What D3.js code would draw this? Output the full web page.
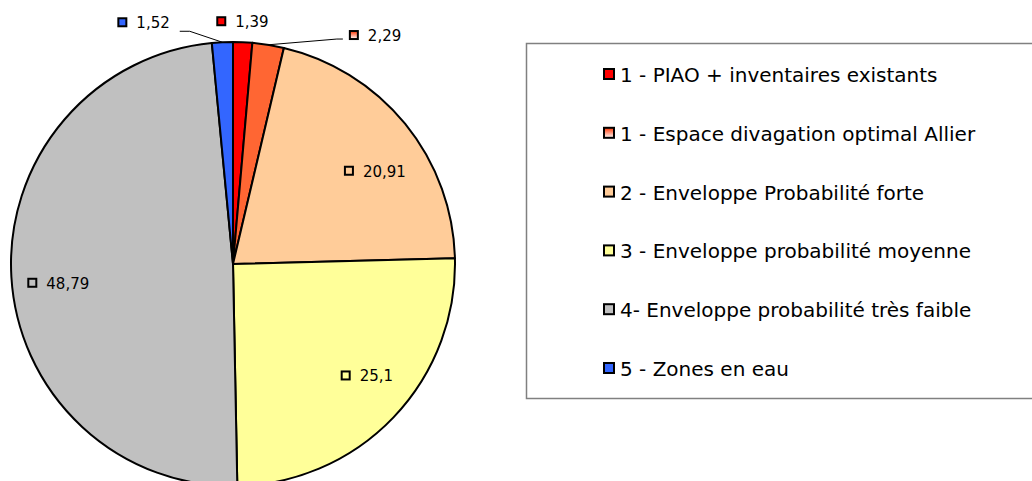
<!DOCTYPE html>
<html>
<head>
<meta charset="utf-8">
<script src="https://cdn.jsdelivr.net/npm/d3@7"></script>
<style>
  html, body { margin: 0; padding: 0; background: #fff; }
  svg { display: block; font-family: Verdana, "DejaVu Sans", sans-serif; }
</style>
</head>
<body>
<div id="chart"></div>
<script>
// categories and values, in drawing order (clockwise from 12 o'clock)
var categories = [
  "1 - PIAO + inventaires existants",
  "1 - Espace divagation optimal Allier",
  "2 - Enveloppe Probabilité forte",
  "3 - Enveloppe probabilité moyenne",
  "4- Enveloppe probabilité très faible",
  "5 - Zones en eau"
];
var values = [1.39, 2.29, 20.91, 25.1, 48.79, 1.52];
var valueLabels = ["1,39", "2,29", "20,91", "25,1", "48,79", "1,52"];
var fills = ["#ff0000", "url(#gradSlice)", "#ffcc99", "#ffff99", "#c0c0c0", "#3366ff"];
var legendFills = ["#ff0000", "url(#gradKey)", "#ffcc99", "#ffff99", "#c0c0c0", "#3366ff"];

var W = 1032, H = 481;
var cx = 233, cy = 264, R = 222;

var svg = d3.select("#chart").append("svg")
    .attr("width", W).attr("height", H)
    .attr("viewBox", "0 0 " + W + " " + H);

var defs = svg.append("defs");
var g1 = defs.append("linearGradient").attr("id", "gradSlice")
    .attr("gradientUnits", "userSpaceOnUse")
    .attr("x1", 0).attr("y1", cy - R).attr("x2", 0).attr("y2", cy - 20);
g1.append("stop").attr("offset", 0).attr("stop-color", "#ff6633");
g1.append("stop").attr("offset", 1).attr("stop-color", "#ffffff");
var g2 = defs.append("linearGradient").attr("id", "gradKey")
    .attr("x1", 0).attr("y1", 0).attr("x2", 0).attr("y2", 1);
g2.append("stop").attr("offset", 0).attr("stop-color", "#ff3300");
g2.append("stop").attr("offset", 1).attr("stop-color", "#ffffff");

var pie = d3.pie().sort(null).value(function(d){ return d; });
var arcs = pie(values);
var arc = d3.arc().innerRadius(0).outerRadius(R);
var labelArc = d3.arc().innerRadius(170).outerRadius(170);
var outerArc = d3.arc().innerRadius(240).outerRadius(240);
var edgeArc = d3.arc().innerRadius(R).outerRadius(R);

var pieG = svg.append("g").attr("transform", "translate(" + cx + "," + cy + ")");

pieG.selectAll("path.slice")
    .data(arcs).enter().append("path").classed("slice", true)
    .attr("d", arc)
    .attr("fill", function(d, i){ return fills[i]; })
    .attr("stroke", "#000")
    .attr("stroke-width", 2)
    .attr("stroke-linejoin", "round");

// label placement: small slices outside, others inside, with Excel-like nudges
var outside = [true, true, false, false, false, true];
var nudge = [[-1, -3], [104, 8], [10, 14], [11, -6], [-5, 9], [-78, -2]];

var labels = pieG.selectAll("g.lbl")
    .data(arcs).enter().append("g").classed("lbl", true);

labels.each(function(d, i){
  var _self = d3.select(this);
  var c = outside[i] ? outerArc.centroid(d) : labelArc.centroid(d);
  var x = c[0] + nudge[i][0], y = c[1] + nudge[i][1];
  var t = _self.append("text")
      .attr("font-size", 15)
      .attr("fill", "#000")
      .attr("dominant-baseline", "central")
      .text(valueLabels[i]);
  var tw = t.node().getComputedTextLength();
  var total = 19 + tw;
  var left = x - total / 2;
  _self.append("rect")
      .attr("x", left + 1).attr("y", y - 4)
      .attr("width", 8).attr("height", 8)
      .attr("fill", fills[i] === "url(#gradSlice)" ? "url(#gradKey)" : fills[i])
      .attr("stroke", "#000").attr("stroke-width", 2);
  t.attr("x", left + 19).attr("y", y + 1);
  d.lbl = {left: left, right: left + total, y: y};
});

// leader lines for the two labels pushed away from their slices
var leaders = [
  {i: 5, side: "left"},
  {i: 1, side: "right"}
];
leaders.forEach(function(l){
  var d = arcs[l.i];
  var p = edgeArc.centroid(d);
  var pts;
  if (l.side === "left") {
    var ly = d.lbl.y + 9;
    pts = [[d.lbl.right + 10, ly], [d.lbl.right + 20, ly], p];
  } else {
    var ry = d.lbl.y + 4;
    pts = [p, [d.lbl.left - 12, ry], [d.lbl.left - 6, ry]];
  }
  pieG.append("path")
      .attr("d", d3.line()(pts))
      .attr("fill", "none")
      .attr("stroke", "#000")
      .attr("stroke-width", 1);
});

// legend
var legendG = svg.append("g");
legendG.append("rect")
    .attr("x", 526.5).attr("y", 43.5)
    .attr("width", 540).attr("height", 355)
    .attr("fill", "#fff")
    .attr("stroke", "#808080").attr("stroke-width", 1.5);

var ly = d3.scaleLinear().domain([0, categories.length - 1]).range([74, 368]);
var items = legendG.selectAll("g.key")
    .data(categories).enter().append("g").classed("key", true)
    .attr("transform", function(d, i){ return "translate(604," + ly(i) + ")"; });
items.append("rect")
    .attr("x", 0).attr("y", -5)
    .attr("width", 10).attr("height", 10)
    .attr("fill", function(d, i){ return legendFills[i]; })
    .attr("stroke", "#000").attr("stroke-width", 2);
items.append("text")
    .attr("x", 16).attr("y", 1)
    .attr("font-size", 20)
    .attr("dominant-baseline", "central")
    .attr("fill", "#000")
    .text(function(d){ return d; });
</script>
</body>
</html>
